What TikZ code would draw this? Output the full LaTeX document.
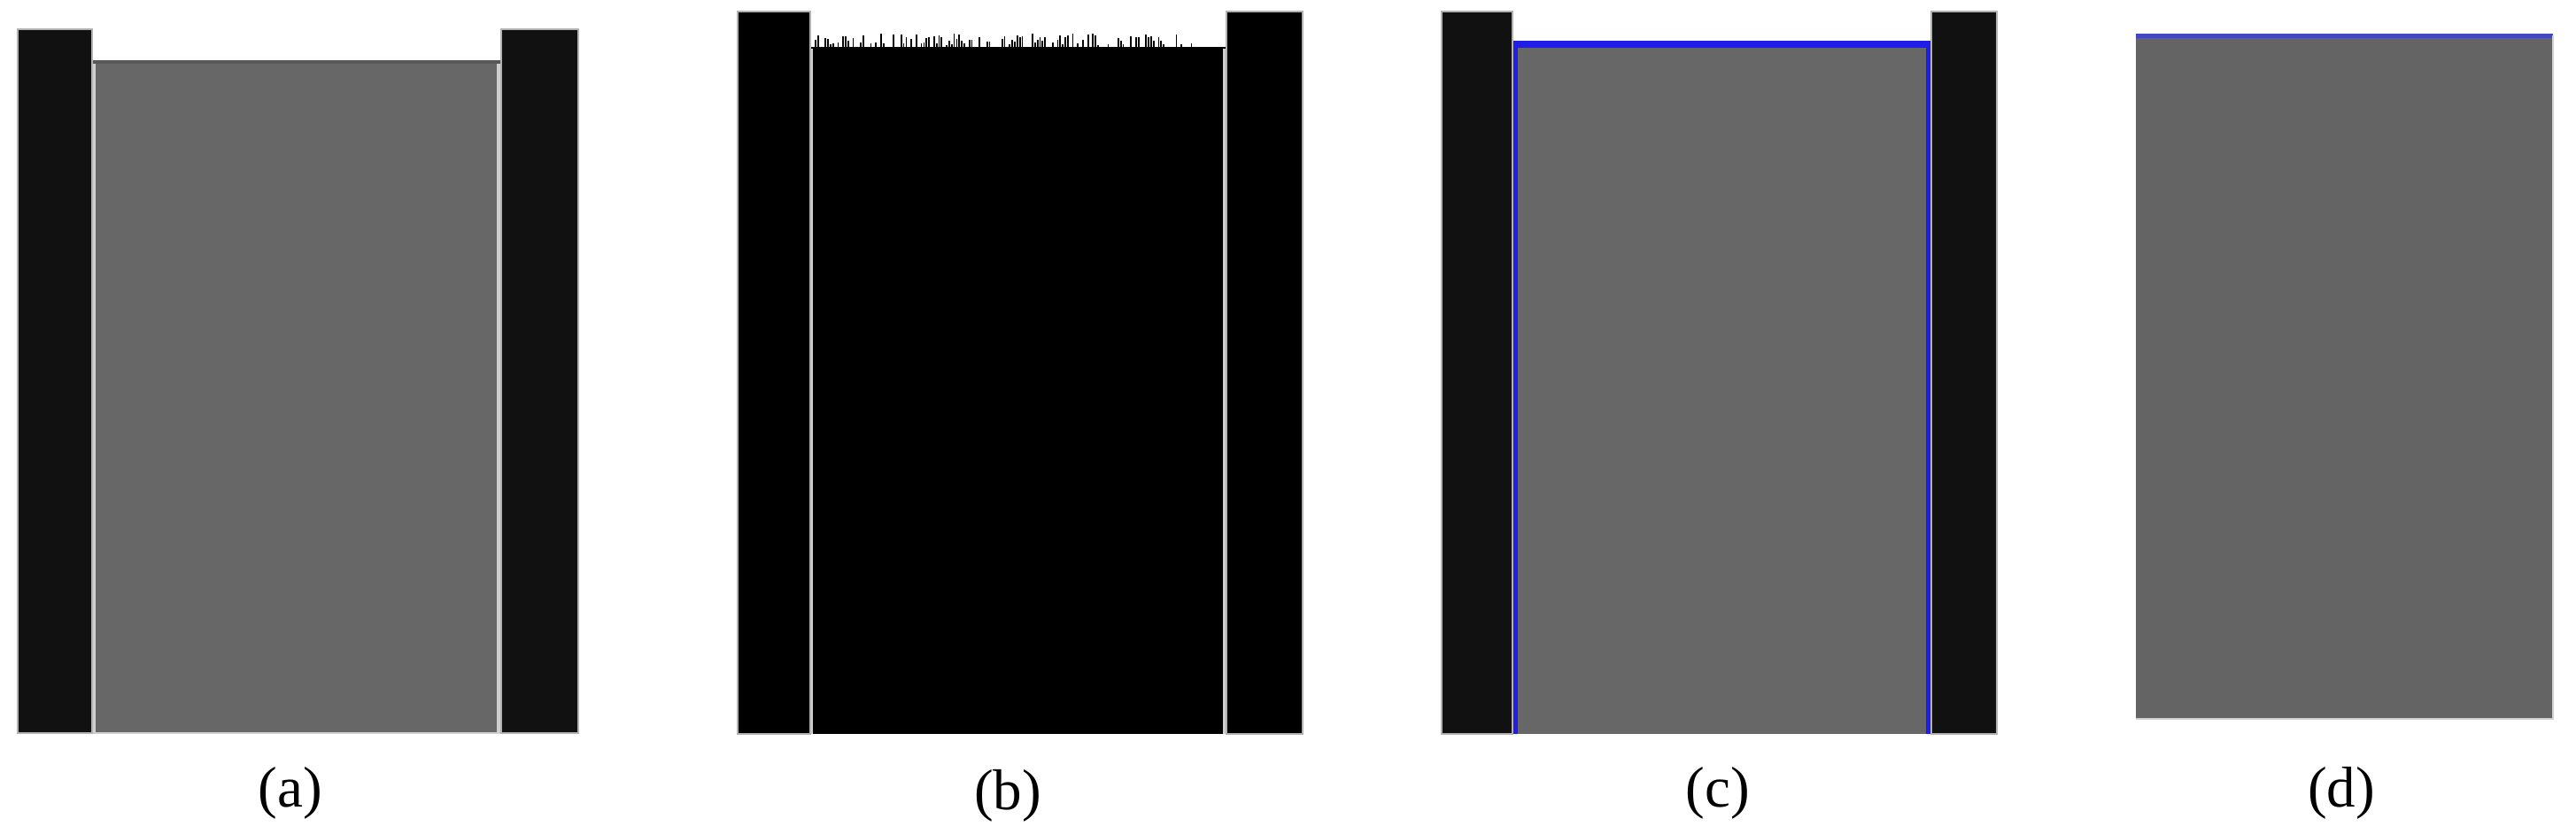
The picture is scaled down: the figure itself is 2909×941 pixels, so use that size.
\documentclass[tikz,border=0pt]{standalone}
\usepackage{fontspec}
\setmainfont{Liberation Serif}
\definecolor{barc}{HTML}{111111}
\definecolor{grayc}{HTML}{676767}
\definecolor{grayd}{HTML}{646464}
\definecolor{edgec}{HTML}{D0D0D0}
\definecolor{bluec}{HTML}{1E1EE6}
\tikzset{
  bar/.style={fill=barc, draw=gray!60, line width=0.6pt},
  blackbar/.style={fill=black, draw=gray!60, line width=0.6pt},
  graybox/.style={fill=grayc},
  lbl/.style={font=\fontsize{18.5}{20}\selectfont, inner sep=0pt, anchor=center}
}
\begin{document}
\begin{tikzpicture}[x=0.01cm, y=-0.01cm]
\useasboundingbox (0,0) rectangle (2909,941);
% ---------- (a)
\fill[graybox] (104,70) rectangle (566,828);
\draw[barc!70, line width=1.2pt] (104,70) -- (566,70);
\draw[edgec, line width=1.2pt] (106,72) -- (106,828);
\draw[edgec, line width=1.2pt] (563,72) -- (563,828);
\draw[edgec, line width=0.6pt] (104,828) -- (566,828);
\draw[bar] (20,33) rectangle (104,828);
\draw[bar] (566,33) rectangle (653,828);
\node[lbl] (la) at (328,896) {(a)};
% ---------- (b)
\fill[black] (915,53) rectangle (1385,829);
\draw[edgec, line width=1.2pt] (916,55) -- (916,829);
\draw[edgec, line width=1.2pt] (1383,55) -- (1383,829);
\pgfmathsetseed{7}
\foreach \i in {0,...,150} {
  \pgfmathsetmacro{\xx}{918+\i*2.85}
  \pgfmathsetmacro{\hh}{rnd<0.55 ? 2+rnd*13 : 0}
  \ifdim\hh pt>0pt
    \draw[black, line width=0.5pt] (\xx,53) -- (\xx,53-\hh);
  \fi
}
\draw[blackbar] (833,13) rectangle (915,829);
\draw[blackbar] (1385,13) rectangle (1471,829);
\node[lbl] (lb) at (1138,899) {(b)};
% ---------- (c)
\fill[graybox] (1708,49) rectangle (2181,829);
\draw[bluec, line width=2.4pt] (1710,49) -- (1710,829);
\draw[bluec, line width=2.4pt] (2179,49) -- (2179,829);
\draw[bluec, line width=2.4pt] (1708,50) -- (2181,50);
\draw[bar] (1628,13) rectangle (1708,829);
\draw[bar] (2181,13) rectangle (2255,829);
\node[lbl] (lc) at (1940,896) {(c)};
% ---------- (d)
\fill[grayd] (2412,40) rectangle (2883,812);
\draw[bluec!60!gray, line width=1.2pt] (2412,40.5) -- (2883,40.5);
\draw[edgec, line width=0.6pt] (2883,40) -- (2883,812) -- (2412,812);
\node[lbl] (ld) at (2644,896) {(d)};
\end{tikzpicture}
\end{document}
